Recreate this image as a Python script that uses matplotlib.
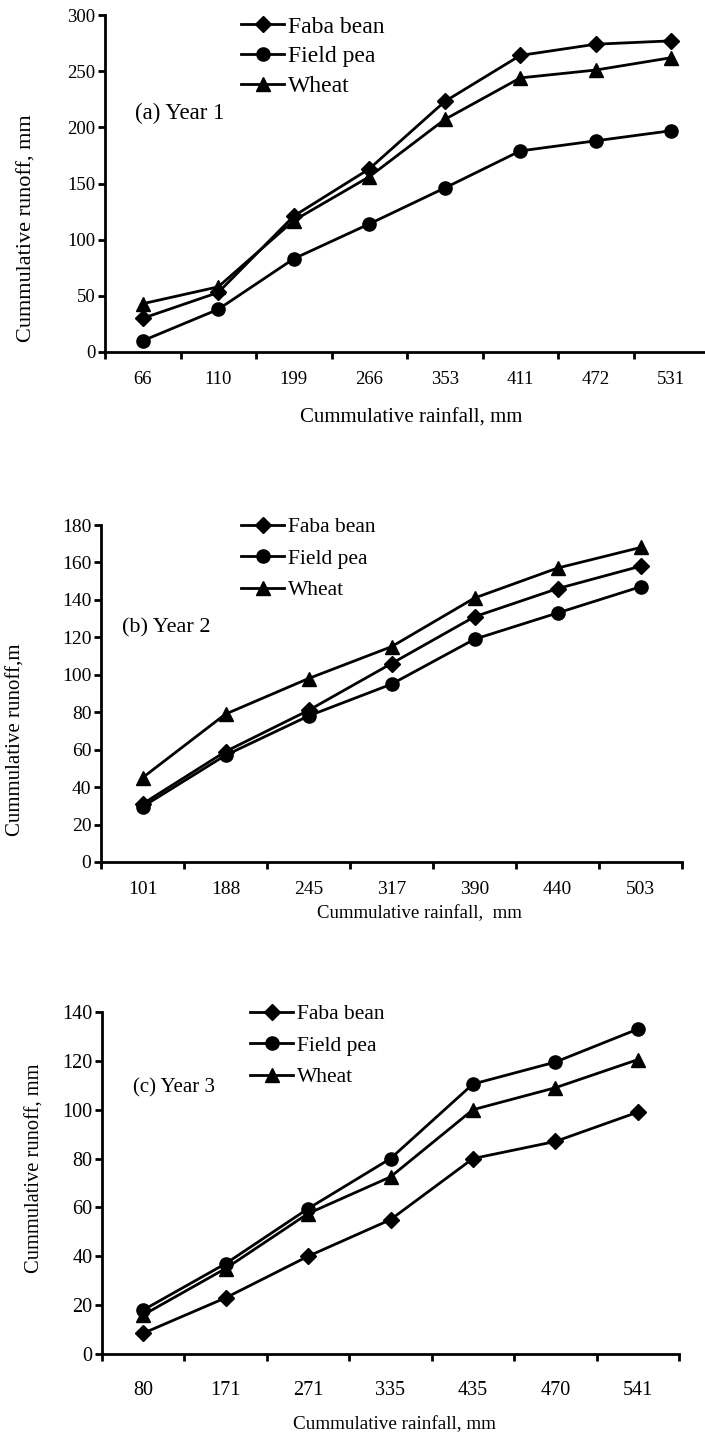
import matplotlib
matplotlib.use('Agg')
import matplotlib.pyplot as plt

plt.rcParams['font.family'] = ['Liberation Serif', 'DejaVu Serif']

# Year 1
rain_y1 = ['66', '110', '199', '266', '353', '411', '472', '531']
faba_y1 = [30, 53, 121, 163, 223, 264, 274, 277]
pea_y1 = [10, 38, 83, 114, 146, 179, 188, 197]
wheat_y1 = [43, 58, 117, 156, 207, 244, 251, 262]

# Year 2
rain_y2 = ['101', '188', '245', '317', '390', '440', '503']
faba_y2 = [31, 59, 81, 106, 131, 146, 158]
pea_y2 = [29.5, 57, 78, 95, 119, 133, 147]
wheat_y2 = [45, 79, 98, 115, 141, 157, 168]

# Year 3
rain_y3 = ['80', '171', '271', '335', '435', '470', '541']
faba_y3 = [8.5, 23, 40, 55, 80, 87, 99]
pea_y3 = [18, 37, 59.5, 80, 110.5, 119.5, 133]
wheat_y3 = [16, 35, 57.5, 72.5, 100, 109, 120.5]

W, H = 705, 1439
fig = plt.figure(figsize=(W / 100, H / 100), dpi=100)


def px_axes(left, right, top, bottom):
    return fig.add_axes([left / W, 1 - bottom / H, (right - left) / W, (bottom - top) / H])


def ftext(x, y, s, **kw):
    # place text by pixel centre, measured from the top-left corner
    fig.text(x / W, 1 - y / H, s, ha=kw.pop('ha', 'center'), va='center', **kw)


def panel(ax, cats, faba, pea, wheat, ymax, ystep, tickfs, tickpad, leg_xy, leg_fs, leg_sp):
    pos = [i + 0.5 for i in range(len(cats))]
    ax.plot(pos, faba, marker='D', markersize=8.5, color='black', lw=2, label='Faba bean')
    ax.plot(pos, pea, marker='o', markersize=9.5, color='black', lw=2, label='Field pea')
    ax.plot(pos, wheat, marker='^', markersize=9.5, color='black', lw=2, label='Wheat')

    ax.set_xlim(0, len(cats))
    ax.set_ylim(0, ymax)
    ax.set_yticks(range(0, ymax + 1, ystep))
    ax.set_xticks(range(len(cats) + 1))
    ax.set_xticklabels([])
    ax.set_xticks(pos, minor=True)
    ax.set_xticklabels(cats, minor=True)
    ax.tick_params(axis='x', which='minor', length=0, pad=tickpad, labelsize=tickfs)
    ax.tick_params(axis='x', which='major', direction='out', length=5, width=2)
    ax.tick_params(axis='y', direction='out', length=5, width=2, labelsize=tickfs, pad=2)
    for s in ['top', 'right']:
        ax.spines[s].set_visible(False)
    for s in ['left', 'bottom']:
        ax.spines[s].set_linewidth(2)

    hl = 31 / leg_fs
    ax.legend(loc='upper left', bbox_to_anchor=(leg_xy[0] / W, 1 - leg_xy[1] / H),
              bbox_transform=fig.transFigure, frameon=False, fontsize=leg_fs,
              handlelength=hl, handletextpad=0.17, labelspacing=leg_sp,
              borderpad=0, borderaxespad=0)


# (a) Year 1
ax1 = px_axes(105, 709, 15, 352)
panel(ax1, rain_y1, faba_y1, pea_y1, wheat_y1, 300, 50, 13.5, 14, (241, 16), 17, 0.35)
ftext(135, 113, '(a) Year 1', ha='left', fontsize=16.5)
ftext(27, 228, 'Cummulative runoff, mm', rotation=90, fontsize=16)
ftext(411, 418, 'Cummulative rainfall, mm', fontsize=15)

# (b) Year 2
ax2 = px_axes(101, 682, 525, 862)
panel(ax2, rain_y2, faba_y2, pea_y2, wheat_y2, 180, 20, 14, 14, (241, 517), 15.5, 0.54)
ftext(122, 628, '(b) Year 2', ha='left', fontsize=16)
ftext(16, 740, 'Cummulative runoff,m', rotation=90, fontsize=15)
ftext(419, 914, 'Cummulative rainfall,  mm', fontsize=13.5)

# (c) Year 3
ax3 = px_axes(102, 679, 1012, 1354)
panel(ax3, rain_y3, faba_y3, pea_y3, wheat_y3, 140, 20, 14.5, 19.5, (250, 1004), 15.5, 0.54)
ftext(133, 1088, '(c) Year 3', ha='left', fontsize=15)
ftext(35, 1168, 'Cummulative runoff, mm', rotation=90, fontsize=14.8)
ftext(394, 1425, 'Cummulative rainfall, mm', fontsize=13.8)

fig.savefig('out.png', dpi=100)
